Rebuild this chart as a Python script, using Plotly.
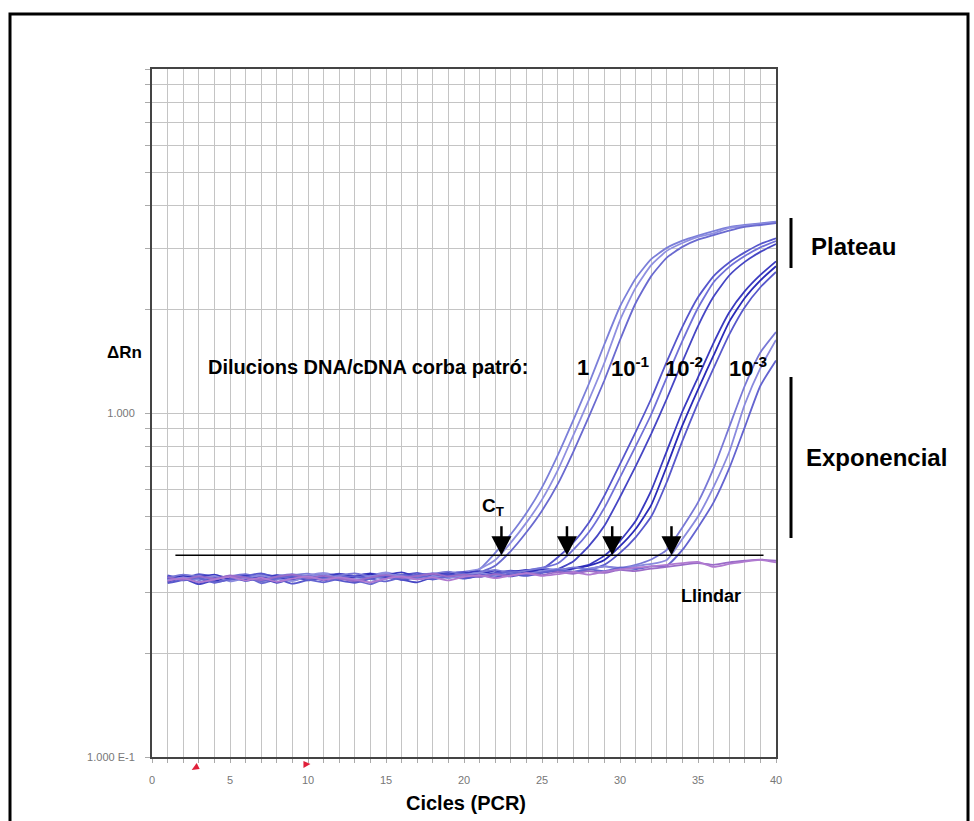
import plotly.graph_objects as go

# ---------------- data ----------------
cycles = list(range(1, 41))

g1a = [0.330,0.336,0.327,0.334,0.331,0.339,0.333,0.329,0.337,0.341,
       0.333,0.328,0.336,0.340,0.334,0.331,0.338,0.342,0.337,0.341,
       0.352,0.392,0.444,0.512,0.608,0.752,0.952,1.214,1.584,2.04,
       2.46,2.80,3.02,3.17,3.28,3.38,3.47,3.52,3.56,3.60]
g1b = [0.334,0.329,0.338,0.331,0.336,0.330,0.340,0.335,0.331,0.338,
       0.343,0.336,0.331,0.337,0.344,0.336,0.333,0.339,0.343,0.346,
       0.352,0.374,0.42,0.48,0.56,0.68,0.86,1.09,1.40,1.86,
       2.31,2.69,2.96,3.12,3.25,3.33,3.45,3.50,3.54,3.59]
g1c = [0.326,0.333,0.322,0.330,0.327,0.335,0.320,0.328,0.334,0.326,
       0.332,0.338,0.327,0.318,0.331,0.336,0.329,0.334,0.340,0.336,
       0.344,0.360,0.397,0.45,0.52,0.62,0.77,0.975,1.245,1.63,
       2.085,2.50,2.83,3.04,3.19,3.29,3.39,3.475,3.52,3.565]
g2a = [0.337,0.331,0.340,0.334,0.329,0.336,0.342,0.333,0.338,0.330,
       0.335,0.341,0.334,0.339,0.332,0.337,0.343,0.336,0.340,0.345,
       0.338,0.343,0.348,0.345,0.352,0.38,0.42,0.48,0.575,0.71,
       0.88,1.10,1.41,1.78,2.17,2.50,2.74,2.93,3.10,3.22]
g2b = [0.331,0.338,0.333,0.327,0.335,0.340,0.332,0.337,0.328,0.334,
       0.339,0.331,0.336,0.342,0.335,0.329,0.337,0.341,0.334,0.339,
       0.343,0.337,0.344,0.349,0.355,0.365,0.40,0.45,0.53,0.65,
       0.80,0.99,1.27,1.62,2.02,2.40,2.66,2.86,3.03,3.16]
g2c = [0.323,0.330,0.318,0.327,0.333,0.325,0.331,0.321,0.329,0.335,
       0.326,0.332,0.324,0.330,0.337,0.328,0.322,0.333,0.338,0.331,
       0.336,0.341,0.335,0.342,0.347,0.352,0.370,0.41,0.47,0.57,
       0.70,0.87,1.10,1.41,1.79,2.18,2.51,2.75,2.94,3.10]
g3a = [0.335,0.328,0.333,0.339,0.330,0.336,0.331,0.338,0.334,0.327,
       0.333,0.340,0.336,0.331,0.338,0.344,0.335,0.340,0.336,0.342,
       0.347,0.340,0.345,0.350,0.344,0.349,0.354,0.362,0.385,0.425,
       0.485,0.595,0.775,1.01,1.27,1.60,1.96,2.26,2.52,2.76]
g3b = [0.329,0.336,0.330,0.325,0.333,0.329,0.337,0.331,0.326,0.334,
       0.338,0.330,0.335,0.341,0.333,0.338,0.332,0.339,0.344,0.338,
       0.342,0.348,0.341,0.346,0.352,0.347,0.353,0.360,0.374,0.41,
       0.46,0.54,0.70,0.92,1.17,1.47,1.84,2.16,2.43,2.67]
g3c = [0.320,0.327,0.331,0.322,0.328,0.334,0.325,0.330,0.319,0.327,
       0.333,0.326,0.321,0.330,0.336,0.327,0.333,0.328,0.335,0.330,
       0.337,0.333,0.340,0.336,0.343,0.349,0.344,0.351,0.362,0.392,
       0.435,0.50,0.63,0.83,1.07,1.35,1.69,2.03,2.32,2.57]
g4a = [0.332,0.339,0.334,0.328,0.336,0.331,0.327,0.335,0.340,0.333,
       0.329,0.337,0.342,0.335,0.330,0.338,0.334,0.341,0.346,0.339,
       0.344,0.350,0.343,0.348,0.354,0.349,0.356,0.351,0.358,0.355,
       0.362,0.375,0.40,0.465,0.55,0.69,0.91,1.20,1.50,1.72]
g4b = [0.327,0.333,0.329,0.336,0.324,0.331,0.337,0.330,0.325,0.334,
       0.339,0.332,0.327,0.335,0.341,0.334,0.329,0.336,0.331,0.338,
       0.343,0.337,0.345,0.340,0.347,0.352,0.346,0.353,0.358,0.352,
       0.359,0.364,0.374,0.43,0.50,0.61,0.77,1.06,1.35,1.63]
g4c = [0.335,0.326,0.332,0.321,0.329,0.334,0.325,0.331,0.336,0.328,
       0.322,0.330,0.336,0.329,0.324,0.333,0.339,0.330,0.335,0.341,
       0.334,0.340,0.346,0.339,0.344,0.350,0.345,0.351,0.347,0.355,
       0.352,0.358,0.360,0.40,0.465,0.55,0.69,0.91,1.20,1.42]
ntc1 = [0.333,0.328,0.335,0.330,0.337,0.332,0.327,0.334,0.339,0.331,
        0.336,0.330,0.325,0.333,0.338,0.332,0.336,0.341,0.335,0.339,
        0.334,0.340,0.336,0.343,0.338,0.345,0.341,0.347,0.343,0.350,
        0.347,0.353,0.357,0.362,0.366,0.362,0.368,0.372,0.375,0.372]
ntc2 = [0.325,0.331,0.322,0.328,0.334,0.326,0.332,0.323,0.330,0.335,
        0.327,0.333,0.328,0.322,0.330,0.335,0.328,0.333,0.326,0.334,
        0.338,0.331,0.337,0.342,0.336,0.340,0.345,0.339,0.346,0.351,
        0.355,0.358,0.362,0.366,0.369,0.357,0.364,0.370,0.374,0.368]

series = [g1a, g1b, g1c, g2a, g2b, g2c, g3a, g3b, g3c, g4a, g4b, g4c, ntc1, ntc2]
colors = ["#7b7fd9", "#8f8fe0", "#6a6ad0",
          "#5656cc", "#7070d8", "#4646c4",
          "#3a3ac0", "#2a2ab8", "#5858cc",
          "#7878d6", "#8a8ade", "#6464d0",
          "#9a6cc8", "#b07ad0"]

threshold = 0.386
ct_values = [22.4, 26.6, 29.5, 33.3]
red_mark_x = [2.8, 9.9]

x_tick_vals = list(range(0, 41))
x_tick_text = [str(v) if v % 5 == 0 else "" for v in x_tick_vals]
y_tick_vals = [0.1,0.2,0.3,0.4,0.5,0.6,0.7,0.8,0.9,1,2,3,4,5,6,7,8,9,10]
y_tick_text = ["1.000 E-1"] + [""] * 8 + ["1.000"] + [""] * 9

# ---------------- figure ----------------
FONT = "Liberation Sans, Arial, sans-serif"
W, H = 974, 821
L, R, T, B = 152, 198, 69, 64
PW, PH = W - L - R, H - T - B

def px(x):
    return (x - L) / PW

def py(y):
    return (H - B - y) / PH

fig = go.Figure()
for s, c in zip(series, colors):
    fig.add_trace(go.Scatter(x=cycles, y=s, mode="lines",
                             line=dict(color=c, width=1.8, shape="spline", smoothing=0.5),
                             hoverinfo="skip", showlegend=False))

# threshold line
fig.add_trace(go.Scatter(x=[1.5, 39.2], y=[threshold, threshold], mode="lines",
                         line=dict(color="black", width=1.6),
                         hoverinfo="skip", showlegend=False))

shapes = []
for ct in ct_values:
    shapes.append(dict(type="path", xref="x", yref="y", xsizemode="pixel", ysizemode="pixel",
                       xanchor=ct, yanchor=threshold,
                       path="M -10,19 L 10,19 L 0,0 Z",
                       fillcolor="black", line=dict(width=0)))
    shapes.append(dict(type="line", xref="x", yref="y", xsizemode="pixel", ysizemode="pixel",
                       xanchor=ct, yanchor=threshold, x0=0, x1=0, y0=17, y1=29,
                       line=dict(color="black", width=2.5)))

# small red cycle markers just under the x axis
red_paths = ["M -4,-13 L 4,-12 L 1,-6 Z", "M -3,-11 L -3,-4 L 4,-7 Z"]
for rx, pth in zip(red_mark_x, red_paths):
    shapes.append(dict(type="path", xref="x", yref="paper", xsizemode="pixel", ysizemode="pixel",
                       xanchor=rx, yanchor=0, path=pth,
                       fillcolor="#e0203a", line=dict(width=0)))

# bars
shapes.append(dict(type="line", xref="paper", yref="paper", x0=px(791), x1=px(791),
                   y0=py(218), y1=py(268), line=dict(color="black", width=3)))
shapes.append(dict(type="line", xref="paper", yref="paper", x0=px(791), x1=px(791),
                   y0=py(377), y1=py(538), line=dict(color="black", width=3)))
# outer frame
shapes.append(dict(type="rect", xref="paper", yref="paper", x0=px(10), x1=px(968),
                   y0=py(900), y1=py(14), line=dict(color="black", width=3)))

ann = []
def text(x, y, t, size, xanchor="center", color="black"):
    ann.append(dict(x=px(x), y=py(y), xref="paper", yref="paper", text=t, showarrow=False,
                    xanchor=xanchor, yanchor="middle",
                    font=dict(family=FONT, size=size, color=color)))

text(124, 353, "<b>ΔRn</b>", 17)
text(206, 367, "<b>Dilucions DNA/cDNA corba patró:</b>", 20, "left")
text(583, 367, "<b>1</b>", 22)
text(609, 367, "<b>10<sup>-1</sup></b>", 22, "left")
text(663, 367, "<b>10<sup>-2</sup></b>", 22, "left")
text(727, 367, "<b>10<sup>-3</sup></b>", 22, "left")
text(809, 246, "<b>Plateau</b>", 24, "left")
text(804, 457, "<b>Exponencial</b>", 24, "left")
text(480, 507, "<b>C<sub>T</sub></b>", 19, "left")
text(679, 596, "<b>Llindar</b>", 18, "left")
text(466, 803, "<b>Cicles (PCR)</b>", 20)

fig.update_layout(
    width=W, height=H,
    margin=dict(l=L, r=R, t=T, b=B),
    paper_bgcolor="white", plot_bgcolor="white",
    showlegend=False,
    shapes=shapes, annotations=ann,
    font=dict(family=FONT),
)
fig.update_xaxes(range=[0, 40], tickvals=x_tick_vals, ticktext=x_tick_text,
                 showgrid=True, gridcolor="#c4c4c4", gridwidth=1,
                 showline=True, linecolor="#444", linewidth=2, mirror=True,
                 ticks="outside", ticklen=4, tickcolor="#aaa",
                 tickfont=dict(family=FONT, size=11, color="#777"),
                 zeroline=False, ticklabelstandoff=8)
fig.update_yaxes(type="log", range=[-1, 1], tickvals=y_tick_vals, ticktext=y_tick_text,
                 showgrid=True, gridcolor="#c4c4c4", gridwidth=1,
                 showline=True, linecolor="#444", linewidth=2, mirror=True,
                 ticks="outside", ticklen=5, tickcolor="#aaa",
                 tickfont=dict(family=FONT, size=11, color="#777"),
                 zeroline=False, ticklabelstandoff=8)

fig.write_html("out.html", config={"displayModeBar": False})

# remove the browser's default body margin so the figure sits at the page origin
with open("out.html", "r", encoding="utf-8") as f:
    html = f.read()
html = html.replace("<head>", "<head><style>html,body{margin:0;padding:0;}</style>", 1)
with open("out.html", "w", encoding="utf-8") as f:
    f.write(html)
